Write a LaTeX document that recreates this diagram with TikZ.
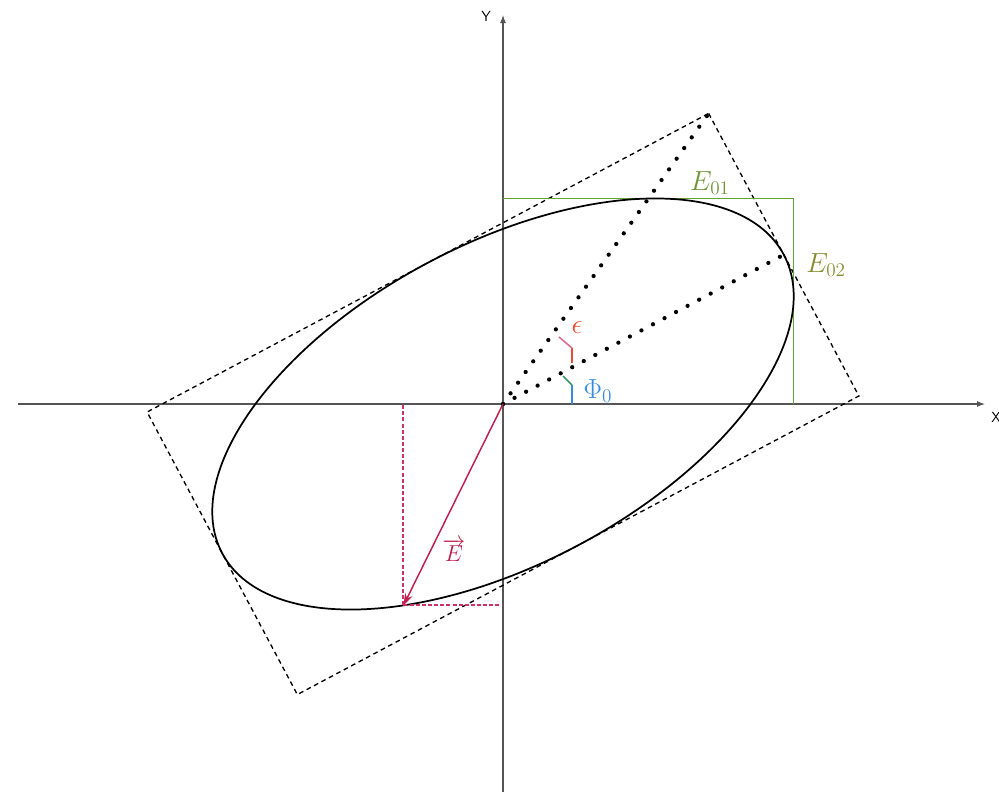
\documentclass[tikz,border=0pt]{standalone}
\usetikzlibrary{arrows.meta,calc}
\definecolor{axisgray}{RGB}{85,85,85}
\definecolor{boxgreen}{RGB}{100,165,55}
\definecolor{lblgreen}{RGB}{110,150,55}
\definecolor{lblolive}{RGB}{135,140,50}
\definecolor{vecred}{RGB}{190,30,80}
\definecolor{projred}{RGB}{205,50,100}
\definecolor{angblue}{RGB}{55,140,225}
\definecolor{anggreen}{RGB}{60,150,100}
\definecolor{angred}{RGB}{240,70,50}
\definecolor{angpink}{RGB}{220,110,140}
\tikzset{
  axisline/.style={draw=axisgray, line width=0.8pt, -{Latex[length=6pt,width=4.5pt]}},
  axlabel/.style={font=\sffamily\fontsize{11}{12}\selectfont, text=black},
  ellline/.style={draw=black, line width=1.3pt},
  rectline/.style={draw=black, line width=1pt, dash pattern=on 3.5pt off 2.8pt},
  dotline/.style={draw=black, line width=3.2pt, line cap=round, dash pattern=on 0pt off 9.8pt},
  greenline/.style={draw=boxgreen, line width=1.1pt},
  vecline/.style={draw=vecred, line width=1.1pt, -{Stealth[length=9pt,width=6pt]}},
  projline/.style={draw=projred, line width=1.5pt, dash pattern=on 3pt off 1.6pt},
  angmark/.style={line width=1.2pt},
  bigmath/.style={font=\fontsize{20}{22}\selectfont, inner sep=1pt},
}
\begin{document}
\begin{tikzpicture}[x=0.75pt,y=0.75pt]
\useasboundingbox (-503,-390) rectangle (496,404);
% key points
\coordinate (O) at (0,0);
\coordinate (Xs) at (-485,0);
\coordinate (Xe) at (482,0);
\coordinate (Ys) at (0,-388);
\coordinate (Ye) at (0,389);
\coordinate (C1) at (205.66,290.56);
\coordinate (C2) at (355.90,8.02);
\coordinate (C3) at (-205.66,-290.56);
\coordinate (C4) at (-355.90,-8.02);
\coordinate (M) at (280.78,149.29);
\coordinate (G0) at (0,205.5);
\coordinate (G1) at (290.6,205.5);
\coordinate (G2) at (290.6,0);
\coordinate (P) at (-99.52,-201.36);
\coordinate (Px) at (-99.52,0);
\coordinate (Py) at (0,-201.36);
\coordinate (A0) at (69,0);
\coordinate (A1) at (69,19);
\coordinate (A2) at (60,28);
\coordinate (B0) at (69,41);
\coordinate (B1) at (69,56);
\coordinate (B2) at (56,67);
% axes
\draw[axisline] (Xs) -- (Xe);
\draw[axisline] (Ys) -- (Ye);
\node[axlabel] (xl) at (493,-13) {X};
\node[axlabel] (yl) at (-17,388) {Y};
% bounding rectangle
\draw[rectline] (C1) -- (C2) -- (C3) -- (C4) -- cycle;
% green box
\draw[greenline] (G0) -- (G1) -- (G2);
% ellipse
\draw[ellline, rotate=28] (O) ellipse [x radius=238.5pt, y radius=120pt];
% dotted lines
\draw[dotline] (O) -- (C1);
\draw[dotline] (O) -- (M);
% angle marks
\draw[angmark, angblue] (A0) -- (A1);
\draw[angmark, anggreen] (A1) -- (A2);
\draw[angmark, angred] (B0) -- (B1);
\draw[angmark, angpink] (B1) -- (B2);
% projections and vector
\draw[projline] (P) -- (Px);
\draw[projline] (P) -- (Py);
\draw[vecline] (O) -- (P);
% labels
\node[bigmath, text=lblgreen] (e01) at (207,221) {$E_{01}$};
\node[bigmath, text=lblolive] (e02) at (323,139) {$E_{02}$};
\node[font=\fontsize{21}{23}\selectfont, text=angred, inner sep=1pt] (eps) at (74,76) {$\epsilon$};
\node[bigmath, text=angblue] (phi) at (95,13) {$\Phi_0$};
\node[font=\fontsize{16}{18}\selectfont, text=vecred, inner sep=1pt] (ev) at (-49,-146) {$\overrightarrow{E}$};
\end{tikzpicture}
\end{document}
